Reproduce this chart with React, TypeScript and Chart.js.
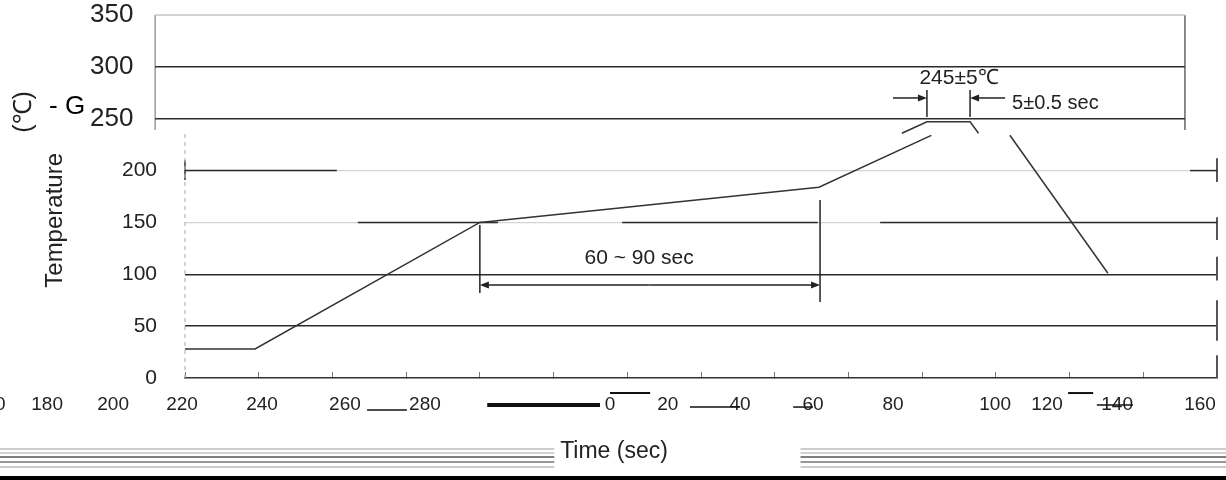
import React, { useEffect, useRef } from 'react';
import { Chart, registerables } from 'chart.js';

Chart.register(...registerables);

const FONT = "'Liberation Sans', Arial, Helvetica, sans-serif";

// ---- data (time in s, temperature in °C) ----
const profileTimeA = [0, 19, 80, 172, 202.5];
const profileTempA = [28, 28, 150, 184, 234];
const profileTimeB = [194.5, 201.3, 213, 215.3];
const profileTempB = [236, 247, 247, 236];
const profileTimeC = [223.8, 250.4];
const profileTempC = [234, 101];

const yTicksLower = [0, 50, 100, 150, 200];
const yTicksUpper = [250, 300, 350];
const xTickMarks = [0, 20, 40, 60, 80, 100, 120, 140, 160, 180, 200, 220, 240, 260, 280];

const xLabelText = ['160', '180', '200', '220', '240', '260', '280', '0', '20', '40', '60', '80', '100', '120', '140', '160'];
const xLabelAt = [-53, -37.4, -19.5, -0.8, 20.9, 43.4, 65.1, 115.3, 131.0, 150.6, 170.4, 192.1, 219.8, 233.9, 252.9, 275.4];

// upper (shifted) frame
const upperFrameTime = [-8.1, 271.3];
const upperFrameTemp = [239, 350];
const upperGridTemps = [300, 250];

// dark pieces of the lower grid lines
const dark200 = [[0, 41.2], [272.7, 280]];
const dark150 = [[46.9, 84.9], [118.6, 171.7], [188.6, 280]];
const rightEdgePieces = [[189, 212], [133, 155], [94, 117], [36, 75], [0, 22]];
const leftEdgeTemp = [0, 239];
const leftEdgeMark = [191, 210];

// garbled strokes in the tick label row: [from, to, temp, width]
const labelStrokes = [
  [82.0, 112.6, -26, 4],
  [115.3, 126.2, -14.5, 2],
  [239.6, 246.4, -14.5, 2],
  [49.4, 60.2, -30.9, 1.5],
  [137.0, 150.6, -28, 1.5],
  [165.0, 170.4, -28, 1.5],
  [247.4, 257.2, -26, 1.5],
];

// dimension annotations
const spanTicks = [[80, 82, 147.5], [172.3, 73.3, 171.6], [201.3, 251.7, 277.7], [213, 251.7, 277.7]];
const arrowFrom = [126, 126, 192.1, 222.5];
const arrowTo = [80, 172.3, 201.3, 213];
const arrowTemp = [89.7, 89.7, 270, 270];

const noteText = ['60 ~ 90 sec', '245±5℃', '5±0.5 sec'];
const noteTime = [123.2, 210, 224.4];
const noteTemp = [115.7, 289.3, 265];

const pts = (ts: number[], vs: number[]) => ts.map((t, i) => ({ x: t, y: vs[i] }));

function lineDs(data: any[], color: string, width: number, dash: number[] = []) {
  return {
    type: 'line' as const,
    data,
    borderColor: color,
    borderWidth: width,
    borderDash: dash,
    pointRadius: 0,
    fill: false,
    tension: 0,
    clip: false as any,
    xAxisID: 'x',
    yAxisID: 'y',
  };
}

const annotPlugin = {
  id: 'annot',
  afterDraw(chart: any) {
    const { ctx, chartArea } = chart;
    const xs = chart.scales.x;
    const ys = chart.scales.y;
    const X = (v: number) => xs.getPixelForValue(v);
    const Y = (v: number) => ys.getPixelForValue(v);
    ctx.save();
    ctx.strokeStyle = '#222';
    ctx.fillStyle = '#222';
    ctx.lineWidth = 1.5;
    // extension lines
    for (const [t, lo, hi] of spanTicks) {
      ctx.beginPath();
      ctx.moveTo(X(t), Y(lo));
      ctx.lineTo(X(t), Y(hi));
      ctx.stroke();
    }
    // arrows
    for (let i = 0; i < arrowFrom.length; i++) {
      const x1 = X(arrowFrom[i]);
      const x2 = X(arrowTo[i]);
      const y = Y(arrowTemp[i]);
      const dir = x2 > x1 ? 1 : -1;
      ctx.beginPath();
      ctx.moveTo(x1, y);
      ctx.lineTo(x2 - dir * 6, y);
      ctx.stroke();
      ctx.beginPath();
      ctx.moveTo(x2, y);
      ctx.lineTo(x2 - dir * 9, y - 3.5);
      ctx.lineTo(x2 - dir * 9, y + 3.5);
      ctx.closePath();
      ctx.fill();
    }
    // notes
    ctx.textBaseline = 'middle';
    const sizes = [21, 21, 20];
    const aligns = ['center', 'center', 'left'];
    for (let i = 0; i < noteText.length; i++) {
      ctx.font = `${sizes[i]}px ${FONT}`;
      ctx.textAlign = aligns[i];
      ctx.fillText(noteText[i], X(noteTime[i]), Y(noteTemp[i]));
    }
    // axis titles
    ctx.fillStyle = '#222';
    ctx.save();
    ctx.translate(chartArea.left - 130, Y(152));
    ctx.rotate(-Math.PI / 2);
    ctx.textAlign = 'center';
    ctx.font = `24px ${FONT}`;
    ctx.fillText('Temperature', 0, 0);
    ctx.restore();
    ctx.save();
    ctx.translate(chartArea.left - 161, Y(256.5));
    ctx.rotate(-Math.PI / 2);
    ctx.textAlign = 'center';
    ctx.font = `25px ${FONT}`;
    ctx.fillText('(℃)', 0, 0);
    ctx.restore();
    ctx.fillStyle = '#000';
    ctx.textAlign = 'left';
    ctx.font = `26px ${FONT}`;
    ctx.fillText('- G', chartArea.left - 136, Y(261));
    ctx.fillStyle = '#222';
    ctx.textAlign = 'center';
    ctx.font = `23px ${FONT}`;
    ctx.fillText('Time (sec)', X(116.4), chartArea.bottom + 74);
    // bottom bands
    const W = chart.width;
    const H = chart.height;
    const bands = [
      [31, '#9a9a9a', 1], [27, '#a8a8a8', 1], [23, '#555', 1.5], [18, '#777', 1.5], [13, '#999', 1],
    ];
    for (const [off, col, lw] of bands as any) {
      ctx.strokeStyle = col;
      ctx.lineWidth = lw;
      ctx.beginPath();
      ctx.moveTo(0, H - off);
      ctx.lineTo(X(100.2), H - off);
      ctx.moveTo(X(167), H - off);
      ctx.lineTo(W, H - off);
      ctx.stroke();
    }
    ctx.fillStyle = '#000';
    ctx.fillRect(0, H - 4, W, 4);
    ctx.restore();
  },
};

export default function App() {
  const ref = useRef<HTMLCanvasElement>(null);
  useEffect(() => {
    const canvas = ref.current;
    if (!canvas) return;
    Chart.defaults.font.family = FONT;
    Chart.defaults.color = '#222';

    const datasets: any[] = [];
    datasets.push(lineDs(pts(profileTimeA, profileTempA), '#333', 1.5));
    datasets.push(lineDs(pts(profileTimeB, profileTempB), '#333', 1.5));
    datasets.push(lineDs(pts(profileTimeC, profileTempC), '#333', 1.5));

    // upper frame
    datasets.push(lineDs(pts(upperFrameTime, [upperFrameTemp[1], upperFrameTemp[1]]), '#c4c4c4', 1.5));
    for (const g of upperGridTemps) {
      datasets.push(lineDs(pts(upperFrameTime, [g, g]), '#2b2b2b', 1.5));
    }
    datasets.push(lineDs(pts([upperFrameTime[0], upperFrameTime[0]], upperFrameTemp), '#9a9a9a', 1.5));
    datasets.push(lineDs(pts([upperFrameTime[1], upperFrameTime[1]], upperFrameTemp), '#666', 1.5));

    for (const [a, b] of dark200) datasets.push(lineDs(pts([a, b], [200, 200]), '#2b2b2b', 1.5));
    for (const [a, b] of dark150) datasets.push(lineDs(pts([a, b], [150, 150]), '#2b2b2b', 1.5));
    for (const [lo, hi] of rightEdgePieces) datasets.push(lineDs(pts([280, 280], [lo, hi]), '#555', 2));
    datasets.push(lineDs(pts([0, 0], leftEdgeTemp), '#b5b5b5', 1.2, [4, 4]));
    datasets.push(lineDs(pts([0, 0], leftEdgeMark), '#333', 1.5));

    for (const [a, b, v, w] of labelStrokes) datasets.push(lineDs(pts([a, b], [v, v]), '#111', w));

    const chart = new Chart(canvas, {
      type: 'line',
      data: { datasets },
      plugins: [annotPlugin],
      options: {
        responsive: false,
        animation: false,
        events: [],
        layout: { padding: { left: 0, right: 9, top: 15, bottom: 0 } },
        plugins: { legend: { display: false }, tooltip: { enabled: false }, title: { display: false } },
        scales: {
          x: {
            type: 'linear',
            position: 'bottom',
            min: 0,
            max: 280,
            weight: 0,
            afterBuildTicks: (s: any) => { s.ticks = xTickMarks.map((v) => ({ value: v })); },
            ticks: { display: false },
            grid: { display: true, drawOnChartArea: false, drawTicks: true, tickLength: -6, color: '#777', lineWidth: 1 },
            border: { display: true, color: '#333', width: 1.5 },
            afterFit: (s: any) => { s.height = 2; s.paddingLeft = 0; s.paddingRight = 0; },
          },
          xl: {
            type: 'linear',
            axis: 'x',
            position: 'bottom',
            min: 0,
            max: 280,
            weight: 1,
            afterBuildTicks: (s: any) => { s.ticks = xLabelAt.map((v) => ({ value: v })); },
            ticks: {
              autoSkip: false,
              maxRotation: 0,
              minRotation: 0,
              padding: 13,
              color: '#222',
              font: { size: 19, family: FONT },
              callback: (_v: any, i: number) => xLabelText[i],
            },
            grid: { display: false, drawTicks: false },
            border: { display: false },
            afterFit: (s: any) => { s.height = 100; s.paddingLeft = 0; s.paddingRight = 0; },
          },
          y: {
            type: 'linear',
            position: 'left',
            min: 0,
            max: 350,
            weight: 2,
            afterBuildTicks: (s: any) => { s.ticks = yTicksLower.map((v) => ({ value: v })); },
            ticks: { padding: 8, color: '#222', font: { size: 21, family: FONT } },
            grid: {
              drawTicks: false,
              color: (c: any) => {
                const v = c.tick && c.tick.value;
                if (v === 200 || v === 150) return '#d4d4d4';
                if (v === 100 || v === 50) return '#2b2b2b';
                return 'rgba(0,0,0,0)';
              },
              lineWidth: (c: any) => {
                const v = c.tick && c.tick.value;
                return v === 100 || v === 50 ? 1.5 : 1.2;
              },
            },
            border: { display: false },
            afterFit: (s: any) => { s.width = 165; s.paddingTop = 0; s.paddingBottom = 0; },
          },
          yTop: {
            type: 'linear',
            axis: 'y',
            position: 'left',
            min: 0,
            max: 350,
            weight: 1,
            afterBuildTicks: (s: any) => { s.ticks = yTicksUpper.map((v) => ({ value: v })); },
            ticks: { mirror: true, crossAlign: 'near', padding: -95, color: '#222', font: { size: 26, family: FONT } },
            grid: { display: false, drawTicks: false },
            border: { display: false },
            afterFit: (s: any) => { s.width = 20; s.paddingTop = 0; s.paddingBottom = 0; },
          },
        },
      } as any,
    });
    return () => chart.destroy();
  }, []);

  return (
    <div style={{ position: 'fixed', left: 0, top: 0, width: 1226, height: 480, background: '#fff' }}>
      <canvas ref={ref} width={1226} height={480} style={{ display: 'block', width: 1226, height: 480 }} />
    </div>
  );
}
